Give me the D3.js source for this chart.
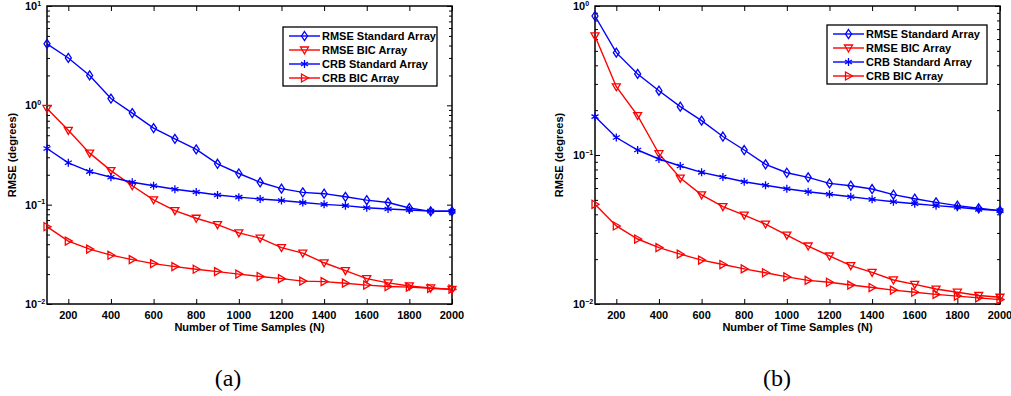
<!DOCTYPE html>
<html>
<head>
<meta charset="utf-8">
<script src="https://cdn.jsdelivr.net/npm/d3@7"></script>
<style>
  body { margin: 0; background: #fff; }
  svg { display: block; }
  text { font-family: "Liberation Sans", Arial, sans-serif; font-weight: bold; fill: #000; }
  .cap { font-family: "Liberation Serif", "DejaVu Serif", serif; font-weight: normal; }
</style>
</head>
<body>
<svg id="chart" width="1011" height="396"></svg>
<script>
// number of time samples N
var samples = [100,200,300,400,500,600,700,800,900,1000,1100,1200,1300,1400,1500,1600,1700,1800,1900,2000]
var xTicks = [200,400,600,800,1000,1200,1400,1600,1800,2000]

// panel (a)
var rmseStdA = [4.16,3.0,2.0,1.17,0.836,0.59,0.46,0.36,0.258,0.206,0.168,0.145,0.133,0.129,0.12,0.111,0.105,0.0925,0.0857,0.0857]
var rmseBicA = [0.93,0.56,0.33,0.22,0.155,0.112,0.087,0.073,0.063,0.052,0.046,0.037,0.0325,0.026,0.0217,0.018,0.0163,0.0152,0.0145,0.014]
var crbStdA  = [0.368,0.264,0.215,0.189,0.168,0.155,0.143,0.134,0.125,0.119,0.114,0.11,0.105,0.1007,0.0977,0.093,0.0904,0.0883,0.086,0.0857]
var crbBicA  = [0.06,0.043,0.0357,0.031,0.028,0.0255,0.0238,0.0224,0.0212,0.02,0.0189,0.018,0.017,0.0168,0.0162,0.0155,0.015,0.0148,0.0144,0.0141]
var yExpA = [-2,-1,0,1]

// panel (b)
var rmseStdB = [0.857,0.486,0.35,0.27,0.211,0.17,0.133,0.108,0.0866,0.076,0.0708,0.0645,0.0622,0.0591,0.0542,0.0509,0.0481,0.0457,0.0439,0.0423]
var rmseBicB = [0.63,0.287,0.184,0.102,0.07,0.054,0.045,0.0395,0.0344,0.029,0.0245,0.021,0.0181,0.0163,0.0145,0.01355,0.0126,0.012,0.0114,0.0111]
var crbStdB  = [0.181,0.131,0.108,0.094,0.0844,0.0765,0.0712,0.0662,0.0626,0.0594,0.0567,0.0545,0.0525,0.0504,0.0486,0.0471,0.0457,0.0446,0.0432,0.0423]
var crbBicB  = [0.0467,0.0334,0.0273,0.0239,0.0216,0.0197,0.0184,0.0172,0.0162,0.0152,0.0144,0.014,0.0134,0.0129,0.0124,0.012,0.0116,0.0113,0.011,0.0107]
var yExpB = [-2,-1,0]

var seriesNames = ['RMSE Standard Array','RMSE BIC Array','CRB Standard Array','CRB BIC Array']
var seriesColors = ['#0000ff','#ff0000','#0000ff','#ff0000']
var seriesMarks = ['diamond','tridown','star','triright']

var svg = d3.select('#chart')

function markerPath(kind){
    if (kind == 'diamond') return 'M0,-4.5L3,0L0,4.5L-3,0Z'
    if (kind == 'tridown') return 'M-4,-3L4,-3L0,4Z'
    if (kind == 'triright') return 'M-3,-4L4,0L-3,4Z'
    // asterisk
    return 'M0,-4L0,4M-3.5,-2L3.5,2M-3.5,2L3.5,-2'
}

function drawPanel(p){
    var g = svg.append('g')
    var x = d3.scaleLinear().domain([100, 2000]).range([p.left, p.right])
    var y = d3.scaleLog().domain([0.01, Math.pow(10, p.yExp[p.yExp.length-1])]).range([p.bottom, p.top])

    var minor = []
    for (var e = -2; e < p.yExp[p.yExp.length-1]; e++)
        for (var m = 2; m <= 9; m++) minor.push(m * Math.pow(10, e))
    var major = p.yExp.map(function(e){ return Math.pow(10, e) })

    // ticks pointing inward on all four sides
    g.append('g').attr('transform', 'translate(0,' + p.bottom + ')')
        .call(d3.axisBottom(x).tickValues(xTicks).tickSize(-5).tickFormat(''))
    g.append('g').attr('transform', 'translate(0,' + p.top + ')')
        .call(d3.axisTop(x).tickValues(xTicks).tickSize(-5).tickFormat(''))
    g.append('g').attr('transform', 'translate(' + p.left + ',0)')
        .call(d3.axisLeft(y).tickValues(major).tickSize(-5).tickFormat(''))
    g.append('g').attr('transform', 'translate(' + p.left + ',0)')
        .call(d3.axisLeft(y).tickValues(minor).tickSize(-3).tickFormat(''))
    g.append('g').attr('transform', 'translate(' + p.right + ',0)')
        .call(d3.axisRight(y).tickValues(major).tickSize(-5).tickFormat(''))
    g.append('g').attr('transform', 'translate(' + p.right + ',0)')
        .call(d3.axisRight(y).tickValues(minor).tickSize(-3).tickFormat(''))
    g.selectAll('.domain').remove()
    g.selectAll('.tick line').attr('stroke', '#000').attr('stroke-width', 1)

    g.append('rect').attr('x', p.left).attr('y', p.top)
        .attr('width', p.right - p.left).attr('height', p.bottom - p.top)
        .attr('fill', 'none').attr('stroke', '#000').attr('stroke-width', 1.5)

    // x tick labels
    g.selectAll('.xl').data(xTicks).join('text')
        .attr('x', function(d){ return x(d) }).attr('y', p.bottom + 15)
        .attr('text-anchor', 'middle').attr('font-size', 11)
        .text(function(d){ return d })

    // y tick labels 10^e
    var yl = g.selectAll('.yl').data(p.yExp).join('text')
        .attr('x', p.left - 22).attr('y', function(d){ return y(Math.pow(10, d)) + 4 })
        .attr('font-size', 11)
    yl.append('tspan').text('10')
    yl.append('tspan').attr('dy', -4.5).attr('font-size', 7).text(function(d){ return d == 0 ? '0' : d == 1 ? '1' : '\u2212' + (-d) })

    g.append('text').attr('x', (p.left + p.right) / 2).attr('y', p.bottom + 27)
        .attr('text-anchor', 'middle').attr('font-size', 11).text('Number of Time Samples (N)')
    g.append('text').attr('transform', 'translate(' + p.ylabX + ',' + (p.top + p.bottom) / 2 + ') rotate(-90)')
        .attr('text-anchor', 'middle').attr('font-size', 11).text('RMSE (degrees)')

    var line = d3.line().x(function(d, i){ return x(samples[i]) }).y(function(d){ return y(d) })
    p.series.forEach(function(s, k){
        g.append('path').attr('d', line(s)).attr('fill', 'none')
            .attr('stroke', seriesColors[k]).attr('stroke-width', 1.4)
        g.selectAll('.m' + k).data(s).join('path')
            .attr('transform', function(d, i){ return 'translate(' + x(samples[i]) + ',' + y(d) + ')' })
            .attr('d', markerPath(seriesMarks[k]))
            .attr('fill', 'none').attr('stroke', seriesColors[k]).attr('stroke-width', 1.3)
    })

    // legend
    var lg = g.append('g').attr('transform', 'translate(' + p.legX + ',' + p.legY + ')')
    lg.append('rect').attr('width', p.legW).attr('height', 59)
        .attr('fill', '#fff').attr('stroke', '#000').attr('stroke-width', 1.3)
    seriesNames.forEach(function(n, k){
        var ry = 9 + k * 14
        lg.append('line').attr('x1', 6).attr('x2', 37).attr('y1', ry).attr('y2', ry)
            .attr('stroke', seriesColors[k]).attr('stroke-width', 1.4)
        lg.append('path').attr('transform', 'translate(21.5,' + ry + ')')
            .attr('d', markerPath(seriesMarks[k])).attr('fill', 'none')
            .attr('stroke', seriesColors[k]).attr('stroke-width', 1.3)
        lg.append('text').attr('x', 39).attr('y', ry + 4).attr('font-size', 11).text(n)
    })

    svg.append('text').attr('class', 'cap').attr('x', p.capX).attr('y', 386)
        .attr('text-anchor', 'middle').attr('font-size', 24).text(p.cap)
}

drawPanel({left: 47, right: 452, top: 6, bottom: 304, yExp: yExpA, ylabX: 16,
    series: [rmseStdA, rmseBicA, crbStdA, crbBicA], legX: 283, legY: 27, legW: 154, cap: '(a)', capX: 228})
drawPanel({left: 595, right: 1000, top: 6, bottom: 304, yExp: yExpB, ylabX: 563,
    series: [rmseStdB, rmseBicB, crbStdB, crbBicB], legX: 827, legY: 25, legW: 160, cap: '(b)', capX: 777})
</script>
</body>
</html>
